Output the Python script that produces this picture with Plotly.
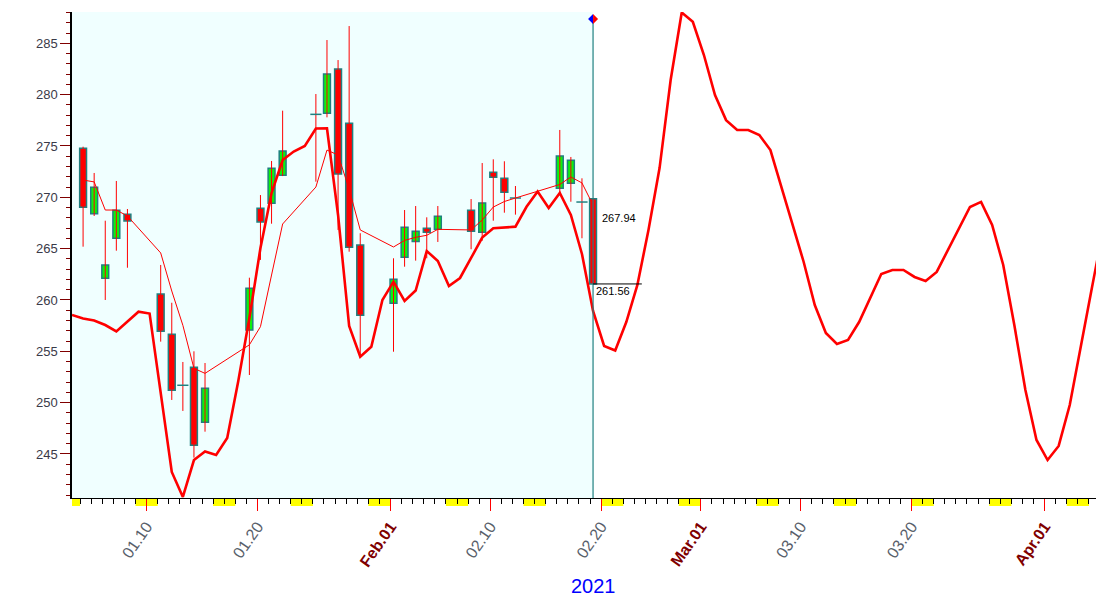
import plotly.graph_objects as go
import pandas as pd

# ---------------- data ----------------
dates = ["2021-01-04", "2021-01-05", "2021-01-06", "2021-01-07", "2021-01-08",
         "2021-01-11", "2021-01-12", "2021-01-13", "2021-01-14", "2021-01-15",
         "2021-01-19", "2021-01-20", "2021-01-21", "2021-01-22",
         "2021-01-25", "2021-01-26", "2021-01-27", "2021-01-28", "2021-01-29",
         "2021-02-01", "2021-02-02", "2021-02-03", "2021-02-04", "2021-02-05",
         "2021-02-08", "2021-02-09", "2021-02-10", "2021-02-11", "2021-02-12",
         "2021-02-16", "2021-02-17", "2021-02-18", "2021-02-19"]

open_ = [274.77, 268.40, 262.11, 266.01, 268.34, 260.58, 256.66, 251.69, 253.44, 248.09,
         257.08, 268.93, 269.42, 272.14, 278.08, 278.18, 282.50, 277.21, 265.35,
         259.68, 264.16, 265.70, 266.98, 266.88, 268.73, 266.59, 272.44, 271.85, 269.93,
         270.88, 271.36, 269.54, 269.86]
high = [274.93, 272.37, 267.72, 271.59, 268.86, 263.41, 259.73, 253.96, 255.00, 253.86,
        262.17, 270.22, 273.54, 278.44, 280.06, 285.32, 283.37, 286.68, 266.50,
        264.06, 268.76, 269.15, 268.05, 269.15, 269.83, 273.34, 273.70, 273.51, 271.10,
        276.56, 273.93, 271.85, 269.86]
low = [265.19, 268.18, 260.00, 264.80, 263.14, 255.94, 250.26, 249.19, 244.64, 247.17,
       252.69, 263.90, 267.43, 272.07, 271.52, 277.79, 266.82, 264.70, 254.54,
       254.96, 263.24, 263.83, 264.06, 265.65, 264.94, 265.77, 267.72, 268.50, 268.31,
       270.39, 269.57, 266.01, 261.56]
close = [269.03, 270.97, 263.41, 268.73, 267.69, 256.95, 251.20, 251.69, 245.85, 251.40,
         261.14, 267.60, 272.83, 274.51, 278.08, 282.01, 272.27, 265.13, 258.51,
         262.01, 267.08, 266.69, 266.59, 268.15, 266.69, 269.45, 271.95, 270.49, 269.93,
         274.02, 273.60, 269.54, 261.56]

# thin moving average (one value per trading day)
ma_thin = [271.68, 271.50, 268.76, 268.76, 268.18, 264.58, 260.87, 257.53, 253.34, 252.85,
           255.63, 257.40, 262.43, 267.40, 271.00, 274.60, 274.12, 270.80, 266.82,
           265.16, 265.80, 266.10, 266.30, 266.88, 266.82, 267.79, 269.05, 269.59, 269.93,
           271.25, 271.98, 271.40, 269.25]

# thick forecast curve (one value per calendar day, starting 2021-01-03)
curve_start = "2021-01-03"
curve = [258.54, 258.20, 258.00, 257.56, 256.93, 257.85, 258.86, 258.68, 250.74, 243.25,
         240.81, 244.41, 245.24, 244.90, 246.56, 252.11, 258.24, 265.06, 270.42, 273.63,
         274.46, 275.00, 276.70, 276.72, 268.28, 257.47, 254.48, 255.45, 260.00, 261.78,
         259.90, 260.92, 264.77, 263.80, 261.36, 262.14, 264.09, 266.08, 266.98, 267.06,
         267.14, 269.08, 270.57, 268.96, 270.42, 268.28, 264.48, 258.93, 255.52, 255.08,
         257.85, 261.46, 266.82, 272.85, 281.42, 288.00, 287.10, 283.86, 279.96, 277.52,
         276.55, 276.55, 276.07, 274.60, 270.90, 267.30, 263.70, 259.51, 256.78, 255.71,
         256.10, 257.85, 260.19, 262.53, 262.92, 262.92, 262.24, 261.85, 262.73, 264.87,
         267.01, 269.06, 269.55, 267.30, 263.41, 257.56, 251.23, 246.36, 244.41, 245.78,
         249.77, 255.61, 261.20, 266.80]

tick_dates = ["2021-01-10", "2021-01-20", "2021-02-01", "2021-02-10", "2021-02-20",
              "2021-03-01", "2021-03-10", "2021-03-20", "2021-04-01"]
tick_labels = ["01.10", "01.20", "Feb.01", "02.10", "02.20", "Mar.01", "03.10", "03.20", "Apr.01"]
month_labels = {"Feb.01", "Mar.01", "Apr.01"}

label_hi = 267.94
label_last = 261.56
year_label = "2021"

x_range = ["2021-01-03 06:30", "2021-04-05 15:20"]
y_range = [240.71, 288.05]

# ---------------- styling ----------------
RED = "#FF0000"
GREEN = "#0CF20C"
TEAL = "#1F8080"
CYAN_BG = "#F0FFFF"
OFFSET = pd.Timedelta(hours=6.5)
DAY_MS = 86400000

cx = pd.to_datetime(dates) + OFFSET
curve_x = pd.date_range(curve_start, periods=len(curve), freq="D") + OFFSET
last_x = cx[-1]

fig = go.Figure()

# wicks
wx, wy = [], []
for x, lo, hi in zip(cx, low, high):
    wx += [x, x, None]
    wy += [lo, hi, None]
fig.add_trace(go.Scatter(x=wx, y=wy, mode="lines", line=dict(color=RED, width=1),
                         hoverinfo="skip", showlegend=False))

# bodies
up = [i for i in range(len(dates)) if close[i] - open_[i] > 0.02]
dn = [i for i in range(len(dates)) if open_[i] - close[i] > 0.02]
dj = [i for i in range(len(dates)) if abs(close[i] - open_[i]) <= 0.02]
for idx, col in ((up, GREEN), (dn, RED)):
    fig.add_trace(go.Bar(
        x=[cx[i] for i in idx],
        y=[abs(close[i] - open_[i]) for i in idx],
        base=[min(open_[i], close[i]) for i in idx],
        width=[0.62 * DAY_MS] * len(idx),
        marker=dict(color=col, line=dict(color=TEAL, width=1.5)),
        showlegend=False, hoverinfo="skip"))
fig.add_trace(go.Scatter(
    x=[cx[i] for i in dj], y=[close[i] for i in dj], mode="markers",
    marker=dict(symbol="line-ew", size=8, line=dict(color=TEAL, width=1.5)),
    showlegend=False, hoverinfo="skip"))

# lines
fig.add_trace(go.Scatter(x=cx, y=ma_thin, mode="lines", line=dict(color=RED, width=1),
                         showlegend=False, hoverinfo="skip"))
fig.add_trace(go.Scatter(x=curve_x, y=curve, mode="lines", line=dict(color=RED, width=2.6),
                         showlegend=False, hoverinfo="skip"))

shapes = []
# cyan history background
shapes.append(dict(type="rect", xref="x", yref="paper", x0=x_range[0], x1=last_x,
                   y0=0, y1=1, fillcolor=CYAN_BG, line=dict(width=0), layer="below"))
# weekends (yellow marks under the axis)
start = pd.Timestamp("2021-01-02")
end = pd.Timestamp(x_range[1])
rs = pd.Timestamp(x_range[0])
d = start
while d < end:
    x0 = max(d, rs)
    x1 = min(d + pd.Timedelta(days=2), end)
    shapes.append(dict(type="rect", xref="x", yref="paper", x0=x0, x1=x1,
                       y0=-0.0165, y1=-0.002, fillcolor="#FFFF00",
                       line=dict(width=0), layer="below"))
    d += pd.Timedelta(days=7)
# vertical marker line
yd = 0.9856
shapes.append(dict(type="line", xref="x", yref="paper", x0=last_x, x1=last_x,
                   y0=0, y1=yd, line=dict(color=TEAL, width=1.2)))
# diamond
shapes.append(dict(type="path", xref="x", yref="paper", xsizemode="pixel", ysizemode="pixel",
                   xanchor=last_x, yanchor=yd, path="M-5,0 L0,5 L0,-5 Z",
                   fillcolor="#0000FF", line=dict(width=0)))
shapes.append(dict(type="path", xref="x", yref="paper", xsizemode="pixel", ysizemode="pixel",
                   xanchor=last_x, yanchor=yd, path="M0,5 L5,0 L0,-5 Z",
                   fillcolor=RED, line=dict(width=0)))
# last price line
shapes.append(dict(type="line", xref="x", yref="y", x0=last_x,
                   x1=last_x + pd.Timedelta(days=4.4), y0=label_last, y1=label_last,
                   line=dict(color="black", width=1)))

annotations = [
    dict(x=last_x + pd.Timedelta(hours=15), y=label_hi, xref="x", yref="y",
         text=f"{label_hi:.2f}", showarrow=False, xanchor="left", yanchor="middle",
         font=dict(family="Liberation Sans, Arial", size=11, color="black")),
    dict(x=last_x + pd.Timedelta(hours=2), y=label_last, xref="x", yref="y",
         text=f"{label_last:.2f}", showarrow=False, xanchor="left", yanchor="top",
         yshift=1, font=dict(family="Liberation Sans, Arial", size=11, color="black")),
    dict(x=0.5088, y=-0.181, xref="paper", yref="paper", text=year_label, showarrow=False,
         xanchor="center", yanchor="middle",
         font=dict(family="Liberation Sans, Arial", size=20, color="#0000FF")),
]

ticktext = [f"<b><span style='color:#800000'>{t}</span></b>" if t in month_labels
            else t for t in tick_labels]

fig.update_layout(
    width=1112, height=597, autosize=False,
    margin=dict(l=72, r=16, t=12, b=99, pad=0),
    paper_bgcolor="white", plot_bgcolor="white",
    barmode="overlay", showlegend=False,
    shapes=shapes, annotations=annotations,
    xaxis=dict(type="date", range=x_range, showgrid=False, zeroline=False,
               showline=True, linecolor="black", linewidth=1,
               tickmode="array", tickvals=tick_dates, ticktext=ticktext,
               ticks="outside", ticklen=12, tickcolor=RED, tickwidth=1,
               tickangle=-55,
               tickfont=dict(family="Liberation Sans, Arial", size=16, color="#58606A"),
               minor=dict(dtick=DAY_MS, tick0="2021-01-01", ticks="outside",
                          ticklen=5, tickcolor="black", tickwidth=1, showgrid=False)),
    yaxis=dict(range=y_range, showgrid=False, zeroline=False,
               showline=True, linecolor="black", linewidth=1.5,
               tick0=0, dtick=5, ticks="outside", ticklen=10, tickcolor="#800000",
               tickwidth=1,
               tickfont=dict(family="Liberation Sans, Arial", size=13, color="#3A3A48"),
               minor=dict(dtick=1, ticks="outside", ticklen=4, tickcolor="#800000",
                          tickwidth=1, showgrid=False)),
)

fig.write_html("out.html", include_plotlyjs=True, config={"displayModeBar": False},
               post_script="document.body.style.margin='0';document.body.style.overflow='hidden';")
